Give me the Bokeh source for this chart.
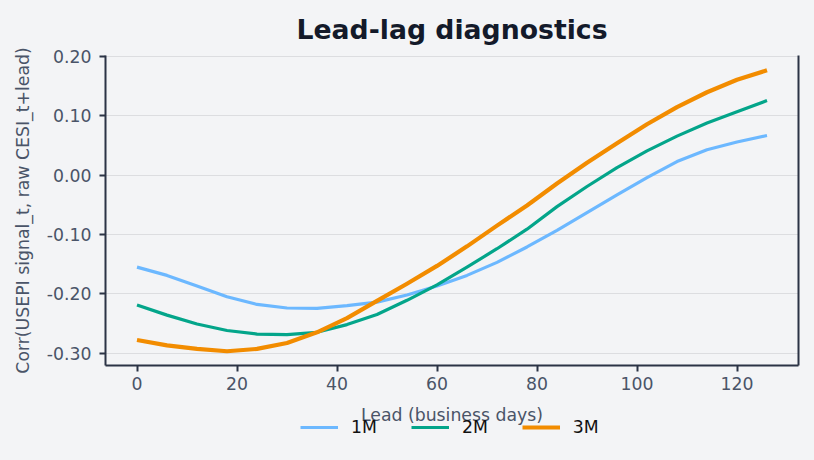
from bokeh.plotting import figure
from bokeh.layouts import column
from bokeh.models import Legend, LegendItem, LinearAxis, Range1d, FixedTicker
from bokeh.embed import file_html
from bokeh.resources import INLINE

lead = [0, 6, 12, 18, 24, 30, 36, 42, 48, 54, 60, 66, 72, 78, 84, 90, 96, 102, 108, 114, 120, 126]
corr_1m = [-0.155, -0.169, -0.187, -0.205, -0.218, -0.224, -0.2245, -0.220, -0.214, -0.202, -0.187,
           -0.169, -0.147, -0.121, -0.093, -0.063, -0.033, -0.004, 0.023, 0.043, 0.056, 0.067]
corr_2m = [-0.219, -0.236, -0.251, -0.262, -0.268, -0.269, -0.265, -0.252, -0.235, -0.211, -0.185,
           -0.155, -0.124, -0.091, -0.053, -0.019, 0.013, 0.041, 0.066, 0.088, 0.107, 0.126]
corr_3m = [-0.278, -0.287, -0.293, -0.297, -0.293, -0.283, -0.265, -0.241, -0.212, -0.183, -0.153,
           -0.120, -0.085, -0.051, -0.014, 0.021, 0.054, 0.086, 0.115, 0.140, 0.161, 0.177]
series_names = ["1M", "2M", "3M"]
x_ticks = [0, 20, 40, 60, 80, 100, 120]
y_ticks = [-0.3, -0.2, -0.1, 0.0, 0.1, 0.2]
y_tick_labels = {-0.3: "-0.30", -0.2: "-0.20", -0.1: "-0.10", 0.0: "0.00", 0.1: "0.10", 0.2: "0.20"}

BG = "#f3f4f6"
AXIS = "#2b3345"
TICKTXT = "#4a5468"
FONT = "DejaVu Sans"
FS = "17.3px"
MAIN_H = 428
OVERLAP = 12

p = figure(width=814, height=MAIN_H, output_backend="svg", toolbar_location=None,
           x_range=Range1d(-6.3, 132.3), y_range=Range1d(-0.321, 0.202),
           background_fill_color=BG, border_fill_color=BG,
           min_border_left=105, min_border_right=16, min_border_top=54, min_border_bottom=MAIN_H - 365)
p.outline_line_color = None

p.title.text = "Lead-lag diagnostics"
p.title.align = "center"
p.title.text_font = FONT
p.title.text_font_size = "26.7px"
p.title.text_font_style = "bold"
p.title.text_color = "#131a2a"
p.title.standoff = 22

colors = ["#6cb8ff", "#03a58a", "#f28c00"]
widths = [3.2, 3.2, 4.2]
series = [corr_1m, corr_2m, corr_3m]
for ys, c, w in zip(series, colors, widths):
    p.line(lead, ys, line_color=c, line_width=w, line_join="round")

p.xgrid.grid_line_color = None
p.ygrid.grid_line_color = "#dcdde0"
p.ygrid.grid_line_width = 1.2
p.ygrid.ticker = FixedTicker(ticks=y_ticks)

for ax in [p.xaxis[0], p.yaxis[0]]:
    ax.axis_line_color = AXIS
    ax.axis_line_width = 2
    ax.major_tick_line_color = AXIS
    ax.major_tick_line_width = 2
    ax.major_tick_out = 6
    ax.major_tick_in = 0
    ax.minor_tick_line_color = None
    ax.major_label_text_font = FONT
    ax.major_label_text_font_size = FS
    ax.major_label_text_color = TICKTXT
    ax.axis_label_text_font = FONT
    ax.axis_label_text_font_size = FS
    ax.axis_label_text_font_style = "normal"
    ax.axis_label_text_color = TICKTXT

p.xaxis[0].ticker = FixedTicker(ticks=x_ticks)
p.yaxis[0].ticker = FixedTicker(ticks=y_ticks)
p.yaxis[0].major_label_overrides = y_tick_labels
p.xaxis[0].axis_label = "Lead (business days)"
p.yaxis[0].axis_label = "Corr(USEPI signal_t, raw CESI_t+lead)"
p.xaxis[0].major_label_standoff = 5
p.xaxis[0].axis_label_standoff = 12
p.yaxis[0].major_label_standoff = 8
p.yaxis[0].axis_label_standoff = 11

right = LinearAxis(ticker=FixedTicker(ticks=[]), major_tick_line_color=None, minor_tick_line_color=None,
                   axis_line_color=AXIS, axis_line_width=2)
p.add_layout(right, "right")

# transparent legend strip, pulled up to overlap the x-axis title like the reference
LG_H = 460 - MAIN_H + OVERLAP
lg = figure(width=814, height=LG_H, output_backend="svg", toolbar_location=None,
            x_axis_location=None, y_axis_location=None,
            x_range=Range1d(1000, 1001), y_range=Range1d(1000, 1001),
            background_fill_alpha=0, border_fill_alpha=0, min_border=0,
            margin=(-OVERLAP, 0, 0, 0))
lg.outline_line_color = None
lg.xgrid.grid_line_color = None
lg.ygrid.grid_line_color = None
items = []
for n, ys, c, w in zip(series_names, series, colors, widths):
    r = lg.line(lead, ys, line_color=c, line_width=w)
    items.append(LegendItem(label=n, renderers=[r]))
legend = Legend(items=items, orientation="horizontal", location=(195, 23),
                background_fill_alpha=0, border_line_color=None,
                label_text_font=FONT, label_text_font_size=FS, label_text_color="#111111",
                glyph_width=38, label_standoff=13, spacing=34, padding=0, margin=0)
lg.add_layout(legend, "center")

layout = column(p, lg, spacing=0, styles={"background-color": BG})
open("out.html", "w").write(file_html(layout, INLINE))
